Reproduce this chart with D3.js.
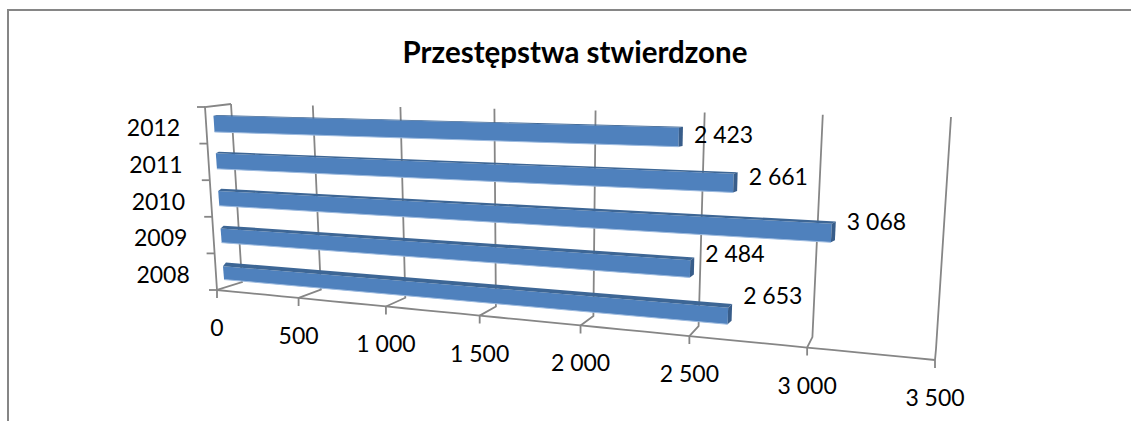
<!DOCTYPE html>
<html>
<head>
<meta charset="utf-8">
<script src="https://cdn.jsdelivr.net/npm/d3@7"></script>
<style>
  html, body { margin: 0; padding: 0; background: #fff; }
  text { font-family: Lato, "Open Sans", sans-serif; fill: #000; }
</style>
</head>
<body>
<div id="chart"></div>
<script>
// values
const years = ["2008", "2009", "2010", "2011", "2012"];
const crimes = [2653, 2484, 3068, 2661, 2423];
const valueTicks = [0, 500, 1000, 1500, 2000, 2500, 3000, 3500];
const title = "Przestępstwa stwierdzone";

const width = 1131, height = 421;

const svg = d3.select("#chart")
  .append("svg")
  .attr("width", width)
  .attr("height", height)
  .style("display", "block");

// value axis runs away from the viewer on the left, so it is not linear on screen
const vScale = d3.scaleLinear().domain([0, 3500]).range([0, 1]);
const perspective = 0.3;
const along = (a, b, v) => {
  const t = vScale(v);
  const s = t / (1 + perspective * (1 - t));
  return [a[0] + (b[0] - a[0]) * s, a[1] + (b[1] - a[1]) * s];
};

// box corners of the 3d plot
const frontBottom = [[217, 290], [935, 360]];
const backBottom = [[242, 282], [936, 349]];
const backTop = [[231, 104], [951, 117]];
const frontTopLeft = [205, 107];

// plane the bars stand in: category band position -> left and right end of plane
const catScale = d3.scaleBand().domain(years).range([0, 1]);
const planeLeft = [[224.7, 289.5], [212.8, 105]];
const planeRight = [[941.5, 355.5], [955, 121]];
const lerp = (p, q, u) => [p[0] + (q[0] - p[0]) * u, p[1] + (q[1] - p[1]) * u];
const barPoint = (v, u) => along(lerp(planeLeft[0], planeLeft[1], u), lerp(planeRight[0], planeRight[1], u), v);

const line = d3.line();
const axisColor = "#868686";

// chart border, only top and left are in the crop
svg.append("path")
  .attr("d", line([[8, height], [8, 10], [width, 10]]))
  .attr("fill", "none")
  .attr("stroke", axisColor)
  .attr("stroke-width", 2);

// title
svg.append("text")
  .attr("x", 575)
  .attr("y", 63)
  .attr("text-anchor", "middle")
  .attr("font-size", 29.5)
  .attr("font-weight", 700)
  .text(title);

// grid lines: wall -> floor -> tick
const grid = svg.append("g")
  .attr("fill", "none")
  .attr("stroke", axisColor)
  .attr("stroke-width", 1.8);

grid.selectAll("path.grid")
  .data(valueTicks)
  .join("path")
    .attr("class", "grid")
    .attr("d", v => {
      const f = along(frontBottom[0], frontBottom[1], v);
      return line([
        along(backTop[0], backTop[1], v),
        along(backBottom[0], backBottom[1], v),
        f,
        [f[0], f[1] + 8]
      ]);
    });

// floor front edge, left wall edges
grid.append("path").attr("d", line(d3.range(0, 3501, 100).map(v => along(frontBottom[0], frontBottom[1], v))));
grid.append("path").attr("d", line([frontBottom[0], frontTopLeft, backTop[0]]));

// category ticks on front left edge
const edgeScale = d3.scaleLinear().domain([0, years.length]).range([0, 1]);
grid.selectAll("path.cat")
  .data(d3.range(years.length + 1))
  .join("path")
    .attr("class", "cat")
    .attr("d", i => {
      const p = lerp(frontBottom[0], frontTopLeft, edgeScale(i));
      return line([p, [p[0] - 8, p[1]]]);
    });

// bars
const barFill = 0.46;
const capWidth = 4;
const strip = d3.scaleLinear().domain([0, years.length - 1]).range([3.6, 0.8]);

const bars = svg.append("g")
  .selectAll("g")
  .data(years.map((y, i) => ({ year: y, value: crimes[i], i })))
  .join("g");

const barCorners = d => {
  const mid = catScale(d.year) + catScale.bandwidth() / 2;
  const half = catScale.bandwidth() * barFill / 2;
  const lb = barPoint(0, mid - half), lt = barPoint(0, mid + half);
  const rb = barPoint(d.value, mid - half), rt = barPoint(d.value, mid + half);
  return { lb, lt, rb, rt, s: strip(d.i) };
};

// front face
bars.append("path")
  .attr("fill", "#4f81bd")
  .attr("d", d => {
    const c = barCorners(d);
    return line([[c.lt[0], c.lt[1] + c.s], [c.rt[0] - capWidth, c.rt[1] + c.s], [c.rb[0] - capWidth, c.rb[1]], c.lb]) + "Z";
  });

// top face
bars.append("path")
  .attr("fill", "#3d6695")
  .attr("d", d => {
    const c = barCorners(d);
    return line([[c.lt[0], c.lt[1] + c.s], [c.lt[0] + 3, c.lt[1]], c.rt, [c.rt[0] - capWidth, c.rt[1] + c.s]]) + "Z";
  });

// end cap
bars.append("path")
  .attr("fill", "#385d8a")
  .attr("d", d => {
    const c = barCorners(d);
    return line([[c.rt[0] - capWidth, c.rt[1] + c.s], c.rt, [c.rb[0], c.rb[1] - c.s], [c.rb[0] - capWidth, c.rb[1]]]) + "Z";
  });

// light lower edge
bars.append("path")
  .attr("fill", "none")
  .attr("stroke", "#9dbbe0")
  .attr("stroke-width", 1)
  .attr("d", d => {
    const c = barCorners(d);
    return line([c.lb, [c.rb[0] - capWidth, c.rb[1]]]);
  });

// data labels
const fmt = d3.formatLocale({ decimal: ",", thousands: " ", grouping: [3], currency: ["", ""] }).format(",d");
const labelRise = d3.scaleLinear().domain([0, years.length - 1]).range([19, 2.5]);

bars.append("text")
  .attr("font-size", 23)
  .attr("dominant-baseline", "central")
  .attr("x", d => barCorners(d).rt[0] + 11)
  .attr("y", d => {
    const c = barCorners(d);
    return (c.rt[1] + c.rb[1]) / 2 - labelRise(d.i);
  })
  .text(d => fmt(d.value));

// value tick labels
svg.append("g")
  .selectAll("text")
  .data(valueTicks)
  .join("text")
    .attr("font-size", 23)
    .attr("text-anchor", "middle")
    .attr("dominant-baseline", "central")
    .attr("x", v => along(frontBottom[0], frontBottom[1], v)[0])
    .attr("y", v => along(frontBottom[0], frontBottom[1], v)[1] + 37)
    .text(v => fmt(v));

// category labels
svg.append("g")
  .selectAll("text")
  .data(years)
  .join("text")
    .attr("font-size", 23)
    .attr("text-anchor", "end")
    .attr("dominant-baseline", "central")
    .attr("x", (y, i) => lerp(frontBottom[0], frontTopLeft, edgeScale(i + 0.5))[0] - 26)
    .attr("y", (y, i) => lerp(frontBottom[0], frontTopLeft, edgeScale(i + 0.5))[1] + 2)
    .text(y => y);
</script>
</body>
</html>
